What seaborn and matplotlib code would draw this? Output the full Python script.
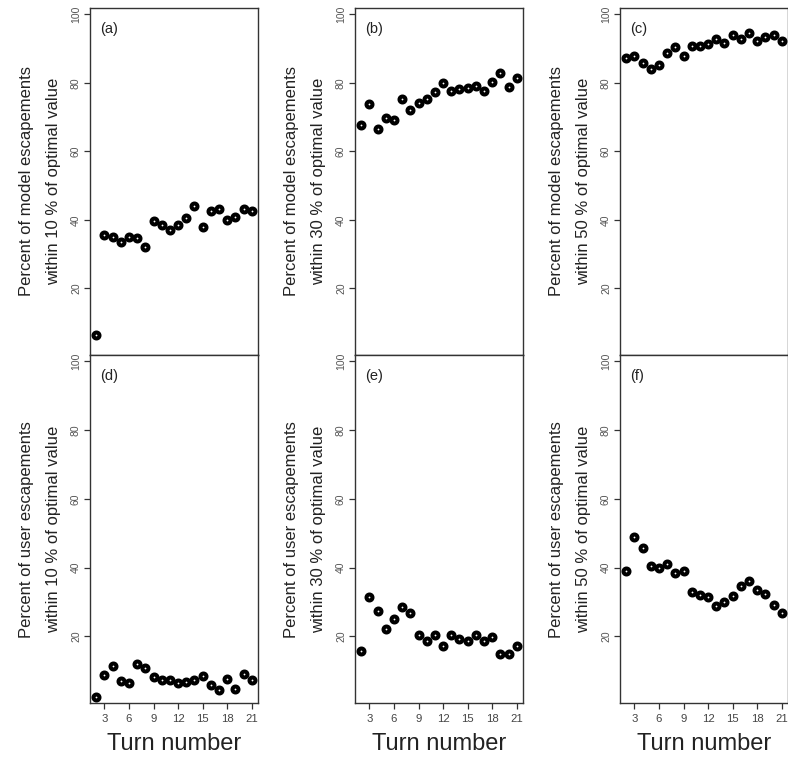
import matplotlib
matplotlib.use("Agg")
import matplotlib.pyplot as plt
from matplotlib import font_manager
import seaborn as sns
import pandas as pd

turns = list(range(2, 22))

model_10 = [6.2, 35.5, 34.9, 33.4, 34.9, 34.6, 31.9, 39.6, 38.5, 37.1,
            38.5, 40.5, 44.1, 37.9, 42.5, 43.1, 39.9, 40.9, 43.2, 42.6]
model_30 = [67.7, 73.7, 66.6, 69.7, 69.1, 75.2, 72.1, 74.1, 75.2, 77.3,
            79.8, 77.7, 78.3, 78.6, 79.2, 77.6, 80.3, 82.8, 78.7, 81.4]
model_50 = [87.3, 87.9, 85.8, 84.1, 85.3, 88.7, 90.5, 87.8, 90.7, 90.7,
            91.3, 92.9, 91.6, 94.0, 92.7, 94.5, 92.1, 93.4, 94.1, 92.2]
user_10 = [2.2, 8.6, 11.3, 6.9, 6.3, 11.9, 10.9, 8.2, 7.2, 7.2,
           6.3, 6.8, 7.3, 8.3, 5.7, 4.3, 7.7, 4.8, 8.9, 7.2]
user_30 = [15.8, 31.5, 27.3, 22.2, 24.9, 28.5, 26.9, 20.5, 18.5, 20.5,
           17.3, 20.5, 19.3, 18.7, 20.5, 18.5, 19.8, 14.8, 14.8, 17.3]
user_50 = [39.0, 49.0, 45.6, 40.4, 40.0, 41.0, 38.5, 39.0, 32.9, 31.9,
           31.5, 28.8, 29.9, 31.6, 34.6, 36.1, 33.4, 32.4, 29.1, 26.9]

panel_letters = ["(a)", "(b)", "(c)", "(d)", "(e)", "(f)"]
ylabels = [
    "Percent of model escapements\nwithin 10 % of optimal value",
    "Percent of model escapements\nwithin 30 % of optimal value",
    "Percent of model escapements\nwithin 50 % of optimal value",
    "Percent of user escapements\nwithin 10 % of optimal value",
    "Percent of user escapements\nwithin 30 % of optimal value",
    "Percent of user escapements\nwithin 50 % of optimal value",
]
series = [model_10, model_30, model_50, user_10, user_30, user_50]
yticks = [20, 40, 60, 80, 100]
xticks = [3, 6, 9, 12, 15, 18, 21]
xlabel = "Turn number"

sns.set_style("ticks")


def has_font(name):
    try:
        font_manager.findfont(font_manager.FontProperties(family=name),
                              fallback_to_default=False)
        return True
    except Exception:
        return False


regular = "Liberation Sans" if has_font("Liberation Sans") else "DejaVu Sans"
narrow = "Liberation Sans Narrow" if has_font("Liberation Sans Narrow") else None
plt.rcParams["font.family"] = [regular, "DejaVu Sans"]

W, H = 788, 760
fig = plt.figure(figsize=(W / 100, H / 100), dpi=100)

col_left = [90, 355, 620]
col_w = 168
rows = [(8, 355), (355, 703.3)]

if narrow:
    ylab_font = dict(family=[narrow, regular], size=14.5)
    ytick_font = dict(family=[narrow, regular], size=9)
else:
    ylab_font = dict(family=[regular], size=12)
    ytick_font = dict(family=[regular], size=7.5)

spine_col = "#333333"

for i, vals in enumerate(series):
    r, c = divmod(i, 3)
    top, bot = rows[r]
    ax = fig.add_axes([col_left[c] / W, (H - bot) / H, col_w / W, (bot - top) / H])
    df = pd.DataFrame({"turn": turns, "pct": vals})
    sns.scatterplot(data=df, x="turn", y="pct", ax=ax, marker="o",
                    s=18.5, facecolor="white", edgecolor="black",
                    linewidth=2.9, zorder=3, clip_on=False)
    ax.set_xlim(1.24, 21.76)
    ax.set_ylim(0.5, 101.85)
    for sp in ax.spines.values():
        sp.set_visible(True)
        sp.set_color(spine_col)
        sp.set_linewidth(1.0)
    ax.set_yticks(yticks)
    ax.set_yticklabels([str(t) for t in yticks], rotation=90, va="center",
                       color="#555555", **ytick_font)
    ax.tick_params(axis="y", direction="out", length=4, width=0.9,
                   color=spine_col, pad=2.5)
    if r == 1:
        ax.set_xticks(xticks)
        ax.set_xticklabels([str(t) for t in xticks], fontsize=8.2,
                           color="#444444")
        ax.tick_params(axis="x", direction="out", length=4, width=0.9,
                       color=spine_col, pad=3.5)
        ax.set_xlabel(xlabel, fontsize=17, labelpad=7, color="#222222")
    else:
        ax.set_xticks([])
        ax.set_xlabel("")
    ax.set_ylabel("")
    ax.text((40 - 90) / col_w, 0.5, ylabels[i], transform=ax.transAxes,
            rotation=90, ha="center", va="center", multialignment="center",
            linespacing=2.05, color="#222222", **ylab_font)
    ax.text(0.06, 0.94, panel_letters[i], transform=ax.transAxes,
            ha="left", va="center", fontsize=10.5, color="#222222")

fig.savefig("out.png", dpi=100)
